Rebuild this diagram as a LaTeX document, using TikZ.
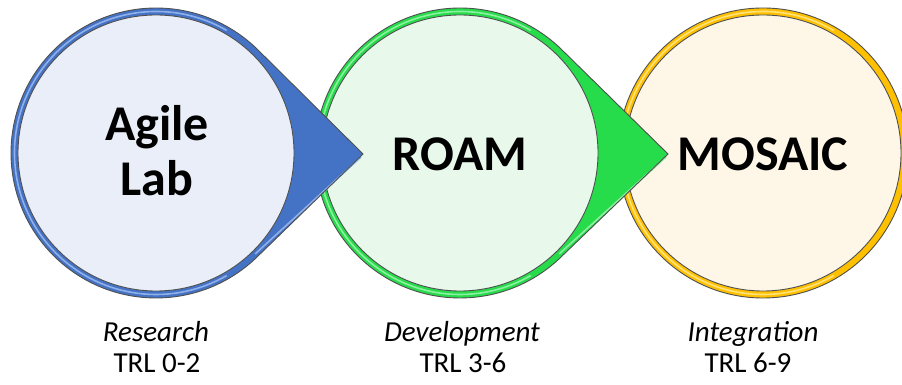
\documentclass[tikz,border=0pt]{standalone}
\usepackage{fontspec}
\setmainfont{Carlito}
\usetikzlibrary{calc}
\definecolor{blueRing}{HTML}{4472C4}
\definecolor{blueLight}{HTML}{8FB0EA}
\definecolor{blueFill}{HTML}{E9EEF8}
\definecolor{greenRing}{HTML}{26DC4A}
\definecolor{greenLight}{HTML}{8CF0A0}
\definecolor{greenFill}{HTML}{E8F9EC}
\definecolor{orangeRing}{HTML}{FFC000}
\definecolor{orangeLight}{HTML}{FFE27A}
\definecolor{orangeFill}{HTML}{FEF6E6}
\definecolor{edgeGray}{HTML}{505050}
\tikzset{
  edgeline/.style={draw=edgeGray, line width=0.9pt},
  bigtext/.style={font=\fontsize{50}{57}\selectfont\bfseries, align=center, text=black},
  phasetext/.style={font=\fontsize{29}{34}\selectfont\itshape, text=black, anchor=base, inner sep=0pt},
  trltext/.style={font=\fontsize{29}{34}\selectfont, text=black, anchor=base, inner sep=0pt},
}
\newcommand{\stagedrop}[5]{%
  % #1 centre name, #2 tip name, #3 ring, #4 light, #5 fill
  \fill[#3] (#2) -- ($(#1)+(45.5:145)$) arc[start angle=45.5, end angle=314.5, radius=145] -- cycle;
  \draw[#4, line width=1.6pt] ($(#1)+(60:141.5)$) arc[start angle=60, end angle=300, radius=141.5];
  \draw[#4, line width=1.6pt] ($(#1)+(-45.5:141.5)$) -- ($(#2)+(-2,-3)$);
  \draw[edgeline, line join=miter] (#2) -- ($(#1)+(45.5:145)$) arc[start angle=45.5, end angle=314.5, radius=145] -- cycle;
  \fill[#5] (#1) circle (138);
  \draw[edgeline] (#1) circle (138);
}
\begin{document}
\begin{tikzpicture}[x=1pt,y=1pt]
  \useasboundingbox (0,0) rectangle (902,385);
  \fill[white] (0,0) rectangle (902,385);
  \coordinate (c1) at (156,232);
  \coordinate (c2) at (460,232);
  \coordinate (c3) at (763,232);
  \coordinate (t1) at (363,231);
  \coordinate (t2) at (668,231);
  % third stage (plain circle)
  \fill[orangeRing] (c3) circle (145);
  \draw[orangeLight, line width=1.6pt] ($(c3)+(60:141.5)$) arc[start angle=60, end angle=300, radius=141.5];
  \draw[edgeline] (c3) circle (145);
  \fill[orangeFill] (c3) circle (138);
  \draw[edgeline] (c3) circle (138);
  \stagedrop{c2}{t2}{greenRing}{greenLight}{greenFill}
  \stagedrop{c1}{t1}{blueRing}{blueLight}{blueFill}
  \node[bigtext] (agile) at ($(c1)+(1,2)$) {Agile\\[-2pt]Lab};
  \node[bigtext] (roam) at ($(c2)+(0,-1)$) {ROAM};
  \node[bigtext] (mosaic) at ($(c3)+(0,-1)$) {MOSAIC};
  \node[phasetext] (res) at (156,43) {Research};
  \node[trltext] (trl1) at (157,12) {TRL 0-2};
  \node[phasetext] (dev) at (462,43) {Development};
  \node[trltext] (trl2) at (463,12) {TRL 3-6};
  \node[phasetext] (int) at (753,43) {Integration};
  \node[trltext] (trl3) at (748,12) {TRL 6-9};
\end{tikzpicture}
\end{document}
